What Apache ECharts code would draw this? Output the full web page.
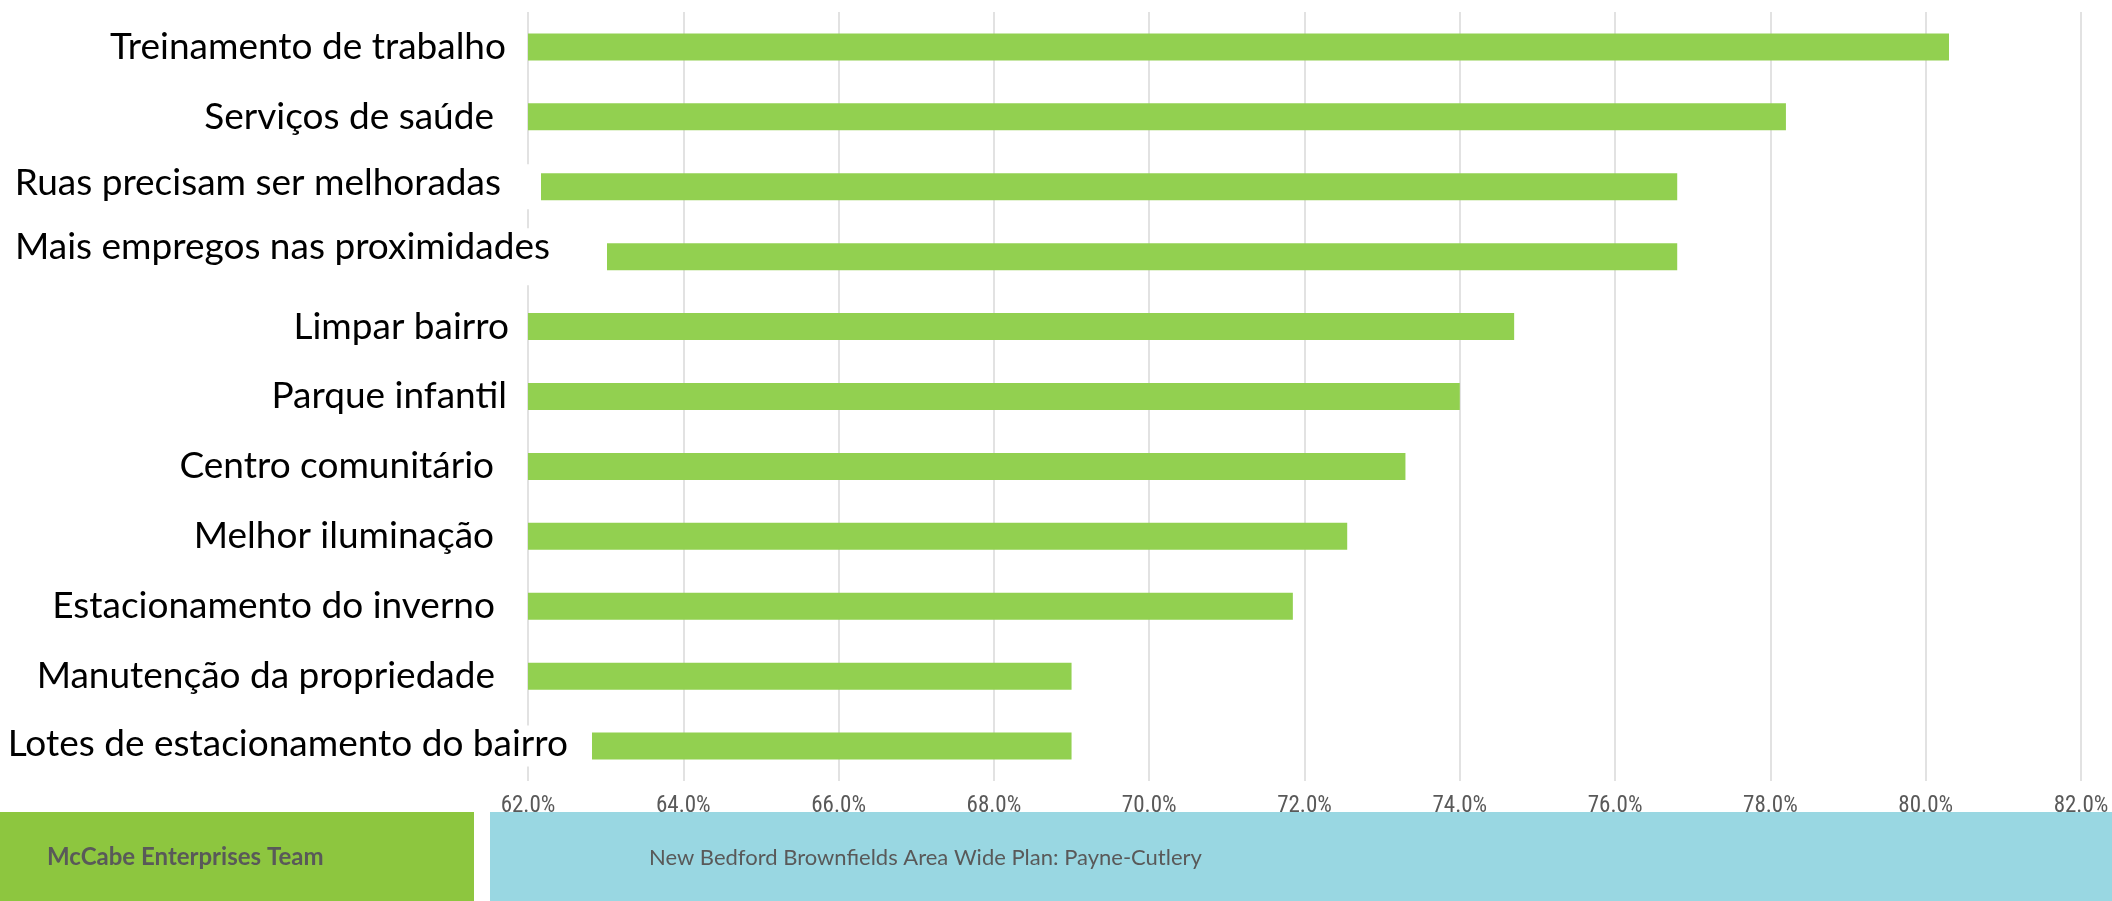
<!DOCTYPE html>
<html>
<head>
<meta charset="utf-8">
<script src="https://cdn.jsdelivr.net/npm/echarts@6/dist/echarts.min.js"></script>
<style>
html,body{margin:0;padding:0;background:#fff;}
#chart{width:2112px;height:901px;}
</style>
</head>
<body>
<div id="chart"></div>
<script>
const categories = [
  "Treinamento de trabalho",
  "Serviços de saúde",
  "Ruas precisam ser melhoradas",
  "Mais empregos nas proximidades",
  "Limpar bairro",
  "Parque infantil",
  "Centro comunitário",
  "Melhor iluminação",
  "Estacionamento do inverno",
  "Manutenção da propriedade",
  "Lotes de estacionamento do bairro"
];
const values = [80.3, 78.2, 76.8, 76.8, 74.7, 74.0, 73.3, 72.55, 71.85, 69.0, 69.0];
const tickMin = 62;
const tickMax = 82;
const tickStep = 2;
const footerLeft = "McCabe Enterprises Team";
const footerRight = "New Bedford Brownfields Area Wide Plan: Payne-Cutlery";

// label box styling (white boxes that overlap bar starts, as in the source picture)
const labelPad = [0, 0, 40, 57, 0, 0, 0, 0, 0, 0, 24];
const labelSpace = [122, 134, 87, 21, 119, 121, 134, 134, 133, 133, 36];
const labelLift = [0, 0, 4, 10, 0, 0, 0, 0, 0, 0, 2];

const LABEL_FONT = "Lato, 'Open Sans', 'Noto Sans', sans-serif";
const rich = {};
for (let i = 0; i < categories.length; i++) {
  const boxed = labelPad[i] > 0;
  rich['t' + i] = {
    fontSize: 37,
    fontFamily: LABEL_FONT,
    color: '#000000',
    padding: [0, labelPad[i], labelLift[i] * 2, 0],
    backgroundColor: boxed ? '#ffffff' : 'transparent',
    lineHeight: boxed ? 62 : 44
  };
  rich['s' + i] = { width: labelSpace[i], fontSize: 10, lineHeight: 10 };
}

const chart = echarts.init(document.getElementById('chart'), null, {renderer: 'canvas'});
chart.setOption({
  animation: false,
  backgroundColor: '#ffffff',
  grid: { left: 528, right: 31, top: 12, height: 769 },
  xAxis: {
    type: 'value',
    min: tickMin,
    max: tickMax,
    interval: tickStep,
    axisLine: { show: false },
    axisTick: { show: false },
    splitLine: { show: true, lineStyle: { color: '#d9d9d9', width: 1.5 } },
    axisLabel: {
      margin: 14,
      fontSize: 23,
      fontFamily: "'Liberation Sans Narrow', 'Roboto Condensed', Roboto, sans-serif",
      color: '#595959',
      formatter: v => v.toFixed(1) + '%'
    }
  },
  yAxis: {
    type: 'category',
    data: categories,
    inverse: true,
    z: 10,
    axisLine: { show: false },
    axisTick: { show: false },
    splitLine: { show: false },
    axisLabel: {
      interval: 0,
      margin: -100,
      rich: rich,
      formatter: (v, i) => '{t' + i + '|' + v + '}{s' + i + '| }'
    }
  },
  series: [{
    type: 'bar',
    data: values,
    barWidth: 27,
    itemStyle: { color: '#92d050' },
    z: 2
  }],
  graphic: [
    { type: 'rect', shape: { x: 0, y: 812, width: 474, height: 89 }, style: { fill: '#8dc63f' } },
    { type: 'rect', shape: { x: 490, y: 812, width: 1622, height: 89 }, style: { fill: '#99d7e2' } },
    { type: 'text', x: 47, y: 857, style: { text: footerLeft, font: "bold 24px Lato, 'Open Sans', sans-serif", fill: '#595959', textVerticalAlign: 'middle' } },
    { type: 'text', x: 649, y: 858, style: { text: footerRight, font: "22px Lato, 'Open Sans', sans-serif", fill: '#595959', textVerticalAlign: 'middle' } }
  ]
});
</script>
</body>
</html>
